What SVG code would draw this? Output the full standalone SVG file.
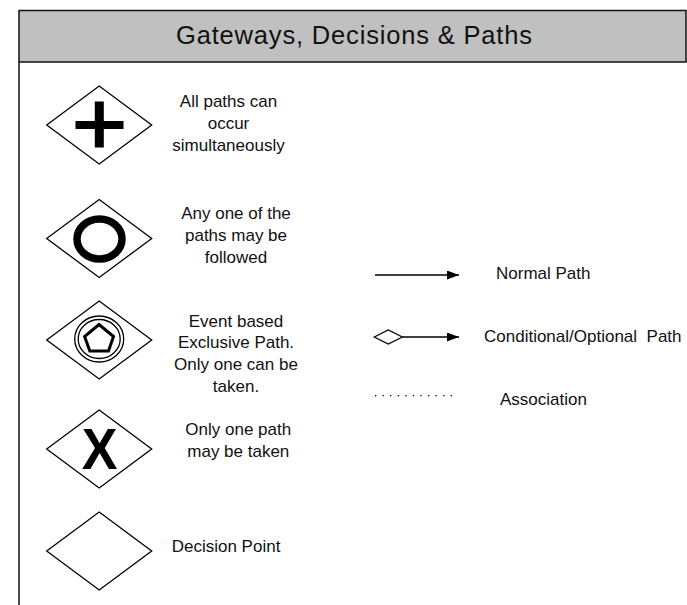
<svg xmlns="http://www.w3.org/2000/svg" width="687" height="605" viewBox="0 0 687 605">
<style>
.frame{fill:none;stroke:#111;stroke-width:1.5}
.hdr{fill:#c0c0c0;stroke:#111;stroke-width:1.5}
.gw{fill:#fff;stroke:#000;stroke-width:1.3}
.lbl{font-family:"Liberation Sans",Arial,sans-serif;font-size:17px;fill:#111}
.ctr{text-anchor:middle}
.title{font-family:"Liberation Sans",Arial,sans-serif;font-size:25.5px;fill:#111;text-anchor:middle}
.ln{fill:none;stroke:#000;stroke-width:1.3}
</style>
<defs>
<path id="dia" d="M-52.5,0 L0,-39 L52.5,0 L0,39 Z"/>
<marker id="arr" viewBox="0 0 12 9" refX="12" refY="4.5" markerWidth="12" markerHeight="9" markerUnits="userSpaceOnUse" orient="auto">
<path d="M0,0 L12,4.5 L0,9 Z" fill="#000"/>
</marker>
</defs>
<rect width="687" height="605" fill="#fff"/>
<g id="frame">
<line class="frame" x1="19" y1="62" x2="19" y2="610"/>
<rect class="hdr" x="19" y="10.5" width="667" height="51.5"/>
<text class="title" x="354" y="44.3" textLength="356" lengthAdjust="spacing">Gateways, Decisions &amp; Paths</text>
</g>
<g id="parallel">
<use href="#dia" class="gw" transform="translate(99.2,125)"/>
<rect x="75.5" y="121" width="48" height="8" fill="#000"/>
<rect x="94.8" y="101.5" width="9" height="46" fill="#000"/>
<text class="lbl ctr"><tspan x="228.5" y="107">All paths can</tspan><tspan x="228.5" y="129">occur</tspan><tspan x="228.5" y="151">simultaneously</tspan></text>
</g>
<g id="inclusive">
<use href="#dia" class="gw" transform="translate(99.2,238.5)"/>
<ellipse cx="99.5" cy="239" rx="22.5" ry="20" fill="none" stroke="#000" stroke-width="7.5"/>
<text class="lbl ctr"><tspan x="236" y="219.3">Any one of the</tspan><tspan x="236" y="241.3">paths may be</tspan><tspan x="236" y="263.3">followed</tspan></text>
</g>
<g id="event">
<use href="#dia" class="gw" transform="translate(99.2,340)"/>
<ellipse cx="99.2" cy="339" rx="24.5" ry="23" fill="none" stroke="#000" stroke-width="1.3"/>
<ellipse cx="99.2" cy="339" rx="21" ry="19.5" fill="none" stroke="#000" stroke-width="1.3"/>
<polygon points="99,324.5 113.5,336.5 108.5,351 89.8,351 84.6,336.5" fill="none" stroke="#000" stroke-width="3" stroke-linejoin="miter"/>
<text class="lbl ctr"><tspan x="236" y="326.7">Event based</tspan><tspan x="236" y="348.4">Exclusive Path.</tspan><tspan x="236" y="370.1">Only one can be</tspan><tspan x="236" y="391.8">taken.</tspan></text>
</g>
<g id="exclusive">
<use href="#dia" class="gw" transform="translate(99.2,449)"/>
<text x="99.5" y="469.3" font-family="'Liberation Sans',Arial,sans-serif" font-weight="bold" font-size="57" text-anchor="middle" fill="#000" transform="translate(99.5,0) scale(0.94,1) translate(-99.5,0)">X</text>
<text class="lbl ctr"><tspan x="238.3" y="435">Only one path</tspan><tspan x="238.3" y="456.7">may be taken</tspan></text>
</g>
<g id="decision">
<use href="#dia" class="gw" transform="translate(99.2,551)"/>
<text class="lbl" x="171.7" y="551.7">Decision Point</text>
</g>
<g id="connectors">
<line class="ln" x1="375" y1="275" x2="459" y2="275" marker-end="url(#arr)"/>
<path d="M374.3,337 L388.3,330 L402.3,337 L388.3,344 Z" fill="#fff" stroke="#000" stroke-width="1.3"/>
<line class="ln" x1="402.3" y1="337" x2="459" y2="337" marker-end="url(#arr)"/>
<line x1="375" y1="395.7" x2="452" y2="395.7" stroke="#000" stroke-width="1.3" stroke-dasharray="1.3 6.27"/>
</g>
<g id="legend-labels">
<text class="lbl" x="496" y="279.3">Normal Path</text>
<text class="lbl" x="484" y="341.7" xml:space="preserve">Conditional/Optional  Path</text>
<text class="lbl" x="500" y="405">Association</text>
</g>
</svg>
